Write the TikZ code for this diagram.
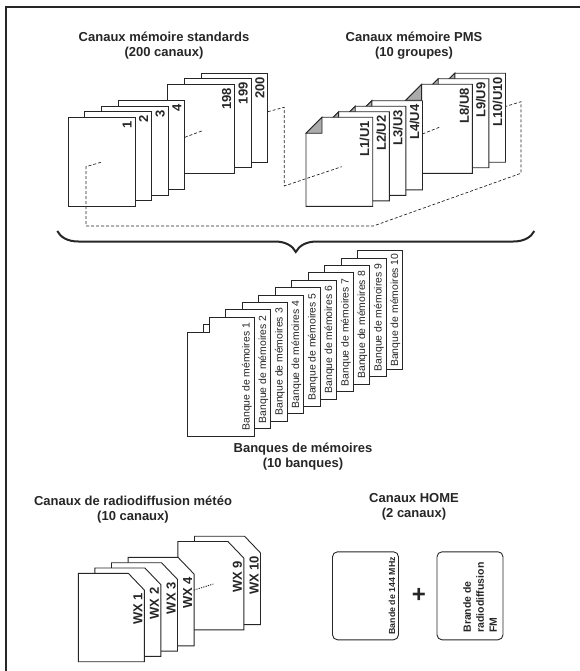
\documentclass[tikz,border=0pt]{standalone}
\usepackage{fontspec}
\setmainfont{Liberation Sans}
\usetikzlibrary{decorations.pathreplacing}
\definecolor{inkgray}{HTML}{262626}
\definecolor{foldgray}{HTML}{ABABAB}

\begin{document}
\begin{tikzpicture}[x=1pt, y=-1pt,
  page/.style={draw=inkgray, fill=white, line width=0.9pt},
  fold/.style={draw=inkgray, fill=foldgray, line width=0.9pt},
  guide/.style={draw=inkgray, line width=0.7pt, dash pattern=on 3pt off 2pt},
  dotline/.style={draw=inkgray, line width=0.9pt, dash pattern=on 1.2pt off 1.2pt},
  title/.style={align=center, text=inkgray, font=\bfseries\fontsize{13}{15}\selectfont},
  num/.style={rotate=90, anchor=base east, inner sep=0pt, text=inkgray, font=\bfseries\fontsize{13}{15}\selectfont},
  bank/.style={rotate=90, anchor=south, inner sep=1pt, text=inkgray, font=\fontsize{10.4}{12}\selectfont},
  home/.style={draw=inkgray, line width=0.9pt, rounded corners=5pt, minimum width=66pt, minimum height=88pt},
  brace/.style={decorate, decoration={brace, mirror, amplitude=21pt}, draw=inkgray, line width=2pt}]
\useasboundingbox (0,0) rectangle (580,671);
\draw[inkgray, line width=2pt] (5.7,671) -- (5.7,7.3) -- (580,7.3);

% titres
\node[title] (stdtitle) at (164,45.8) {Canaux mémoire standards\\(200 canaux)};
\node[title] (pmstitle) at (414,45.8) {Canaux mémoire PMS\\(10 groupes)};
\node[title] (banktitle) at (303,457) {Banques de mémoires\\(10 banques)};
\node[title] (wxtitle) at (133,509.5) {Canaux de radiodiffusion météo\\(10 canaux)};
\node[title] (hometitle) at (414,506.7) {Canaux HOME\\(2 canaux)};

% canaux standards
\foreach \n/\t in {8/200,7/199,6/198,3/4,2/3,1/2,0/1}{
  \pgfmathsetmacro\px{68.3+16.6*\n}
  \pgfmathsetmacro\py{117.3-5.5*\n}
  \draw[page] (\px,\py) rectangle ++(66.7,89);
  \node[num] (std\t) at (\px+63.2,\py+3.5) {\t};
}

% canaux PMS
\foreach \n/\t in {8/10,7/9,6/8,3/4,2/3,1/2,0/1}{
  \pgfmathsetmacro\px{306+16.6*\n}
  \pgfmathsetmacro\py{117.3-5.5*\n}
  \draw[page] (\px,\py+16) -- (\px+16,\py) -- (\px+66.7,\py) -- (\px+66.7,\py+89) -- (\px,\py+89) -- cycle;
  \draw[fold] (\px,\py+16) -- (\px+16,\py) -- (\px+16,\py+16) -- cycle;
  \node[num] (pms\t) at (\px+63.2,\py+3.5) {L\t/U\t};
}

% pointilles de regroupement
\coordinate (g1) at (101,162.3);
\coordinate (g2) at (86,166.7);
\coordinate (g3) at (86,226);
\coordinate (g4) at (373.3,226);
\coordinate (g5) at (521,173.3);
\coordinate (g6) at (521,101.7);
\coordinate (g7) at (505.5,106.5);
\draw[guide] (g1) -- (g2) -- (g3) -- (g4) -- (g5) -- (g6) -- (g7);
\coordinate (h1) at (267.8,111.7);
\coordinate (h2) at (284.3,107.3);
\coordinate (h3) at (284.3,186);
\coordinate (h4) at (341.7,166.7);
\draw[guide] (h1) -- (h2) -- (h3) -- (h4);
\coordinate (s4) at (184.8,137.3);
\coordinate (s198) at (201.7,131);
\draw[guide] (s4) -- (s198);
\coordinate (p4) at (422.5,134);
\coordinate (p8) at (439.3,127.3);
\draw[guide] (p4) -- (p8);

% accolade
\coordinate (b1) at (57.3,231);
\coordinate (b2) at (534.3,231);
\draw[brace] (b1) -- (b2);

% banques de memoires
\foreach \n in {9,8,...,0}{
  \pgfmathsetmacro\px{187.3+16.5*\n}
  \pgfmathsetmacro\py{317.3-7.4*\n}
  \pgfmathtruncatemacro\k{\n+1}
  \draw[page] (\px,\py+118.7) -- (\px,\py+15) -- (\px+22,\py+15) -- (\px+22,\py) -- (\px+66.7,\py) -- (\px+66.7,\py+118.7) -- cycle;
  \node[bank] (bank\k) at (\px+65.7,\py+59.4) {Banque de mémoires \k};
}

% canaux meteo
\foreach \n/\t in {7/10,6/9,3/4,2/3,1/2,0/1}{
  \pgfmathsetmacro\px{78.3+16.6*\n}
  \pgfmathsetmacro\py{573.3-5.3*\n}
  \draw[page] (\px,\py) -- (\px+50,\py) -- (\px+66,\py+16.7) -- (\px+66,\py+88.4) -- (\px,\py+88.4) -- cycle;
  \node[num] (wx\t) at (\px+64,\py+19.5) {WX \t};
}
\coordinate (w4) at (194.1,590);
\coordinate (w9) at (213.3,584);
\draw[dotline] (w4) -- (w9);

% canaux HOME
\node[home] (band144) at (365.5,595.8) {};
\node[home] (bandfm) at (470,595.8) {};
\node[text=inkgray, font=\bfseries\fontsize{24}{24}\selectfont] (plus) at (419,595) {+};
\node[rotate=90, anchor=south, inner sep=3.6pt, text=inkgray, font=\bfseries\fontsize{8.8}{10}\selectfont] (lbl144) at (band144.east) {Bande de 144 MHz};
\node[rotate=90, anchor=south west, align=left, inner sep=0pt, text=inkgray, font=\bfseries\fontsize{10.5}{13}\selectfont] (lblfm) at (497,632.7) {Brande de\\radiodiffusion\\FM};
\end{tikzpicture}
\end{document}
